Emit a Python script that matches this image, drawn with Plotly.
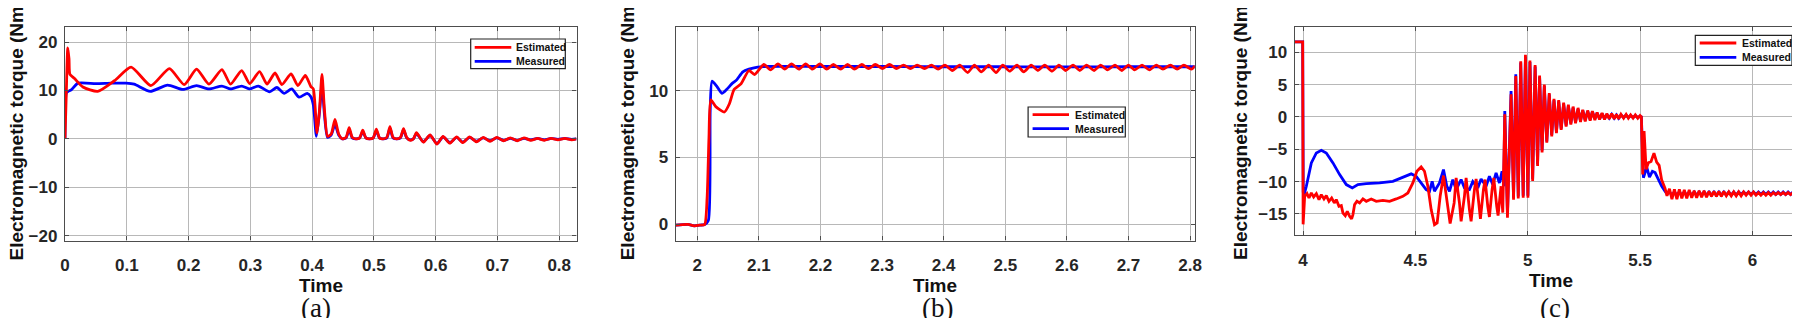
import plotly.graph_objects as go

# ---------------- Panel (a) ----------------
a_t_est = [0.000, 0.002, 0.0045, 0.0065, 0.008, 0.015, 0.029, 0.053, 0.080, 0.107,
           0.139, 0.169, 0.193, 0.213, 0.233, 0.254, 0.268, 0.286, 0.299, 0.315,
           0.327, 0.340, 0.351, 0.366, 0.377, 0.389, 0.398, 0.402, 0.408, 0.412,
           0.416, 0.420, 0.425, 0.431, 0.437, 0.443, 0.449, 0.455, 0.460, 0.465,
           0.471, 0.477, 0.482, 0.487, 0.493, 0.499, 0.504, 0.509, 0.515, 0.521,
           0.526, 0.531, 0.537, 0.543, 0.548, 0.553, 0.559, 0.564, 0.569, 0.580,
           0.591, 0.602, 0.612, 0.623, 0.634, 0.644, 0.655, 0.666, 0.677, 0.688,
           0.699, 0.710, 0.721, 0.732, 0.743, 0.754, 0.765, 0.776, 0.787, 0.798,
           0.809, 0.820, 0.828]
a_est = [0.0, 9.0, 18.8, 16.5, 13.3, 12.5, 10.7, 9.8, 12.0, 14.8,
         11.0, 14.5, 11.2, 14.4, 11.3, 14.3, 11.3, 14.1, 11.4, 13.9,
         11.3, 13.6, 11.2, 13.4, 11.0, 13.1, 10.8, 10.3, 1.2, 6.0,
         13.3, 6.0, 0.5, 1.0, 4.0, 1.0, 0.0, 0.3, 2.3, 0.3,
         0.0, 0.2, 1.8, 0.2, 0.0, 0.2, 2.0, 0.2, 0.0, 0.3,
         2.5, 0.3, 0.0, 0.3, 2.1, 0.3, -0.3, 0.0, 1.3, -0.7,
         0.8, -1.1, 0.5, -0.9, 0.4, -0.8, 0.4, -0.6, 0.3, -0.5,
         0.3, -0.4, 0.2, -0.4, 0.2, -0.3, 0.1, -0.3, 0.1, -0.2,
         0.1, -0.2, 0.0]
a_t_meas = [0.000, 0.002, 0.005, 0.010, 0.021, 0.050, 0.075, 0.099, 0.112, 0.138,
            0.166, 0.191, 0.213, 0.233, 0.254, 0.268, 0.286, 0.299, 0.313, 0.331,
            0.343, 0.355, 0.367, 0.379, 0.392, 0.398, 0.402, 0.407, 0.412, 0.416,
            0.420, 0.425, 0.431, 0.437, 0.443, 0.449, 0.455, 0.460, 0.465, 0.471,
            0.477, 0.482, 0.487, 0.493, 0.499, 0.504, 0.509, 0.515, 0.521, 0.526,
            0.531, 0.537, 0.543, 0.548, 0.553, 0.559, 0.564, 0.569, 0.580, 0.591,
            0.602, 0.612, 0.623, 0.634, 0.644, 0.655, 0.666, 0.677, 0.688, 0.699,
            0.710, 0.721, 0.732, 0.743, 0.754, 0.765, 0.776, 0.787, 0.798, 0.809,
            0.820, 0.828]
a_meas = [0.0, 9.4, 9.8, 10.1, 11.5, 11.4, 11.5, 11.5, 11.3, 9.8,
          11.1, 10.2, 11.0, 10.3, 10.9, 10.3, 10.9, 10.3, 10.9, 9.7,
          10.6, 9.4, 10.3, 8.6, 9.4, 8.7, 7.0, 0.5, 5.5, 11.2,
          5.0, 0.3, 0.8, 3.0, 0.8, 0.0, 0.2, 1.9, 0.2, 0.0,
          0.2, 1.5, 0.2, 0.0, 0.2, 1.7, 0.2, 0.0, 0.2, 2.2,
          0.2, 0.0, 0.2, 1.9, 0.2, -0.2, 0.0, 1.1, -0.6, 0.7,
          -1.0, 0.4, -0.8, 0.3, -0.7, 0.3, -0.5, 0.2, -0.4, 0.2,
          -0.3, 0.1, -0.3, 0.1, -0.2, 0.1, -0.2, 0.1, -0.1, 0.1,
          -0.1, 0.0]

# ---------------- Panel (b) ----------------
b_t_est = [1.965, 1.985, 1.995, 2.005, 2.012, 2.016, 2.019, 2.022, 2.030, 2.044,
           2.052, 2.060, 2.071, 2.084, 2.093, 2.108,
           2.119, 2.131, 2.142, 2.153, 2.165, 2.176, 2.187, 2.199, 2.210, 2.221,
           2.233, 2.244, 2.255, 2.267, 2.278, 2.289, 2.301, 2.312, 2.323, 2.335,
           2.346, 2.357, 2.369, 2.380, 2.391, 2.402, 2.414, 2.426, 2.439, 2.450,
           2.461, 2.473, 2.485, 2.496, 2.507, 2.519, 2.530, 2.542, 2.553, 2.564,
           2.576, 2.587, 2.598, 2.610, 2.621, 2.632, 2.644, 2.655, 2.666, 2.678,
           2.689, 2.700, 2.710, 2.722, 2.734, 2.745, 2.756, 2.768, 2.779, 2.790,
           2.802, 2.808]
b_est = [-0.05, 0.0, -0.1, -0.05, 0.0, 2.0, 6.5, 9.3, 8.8, 8.4,
         9.0, 10.1, 10.5, 11.5, 11.2, 11.95,
         11.55, 12.0, 11.6, 12.0, 11.6, 12.0, 11.6, 12.0, 11.6, 11.95,
         11.6, 11.95, 11.6, 11.95, 11.65, 11.95, 11.65, 11.95, 11.65, 11.9,
         11.65, 11.9, 11.65, 11.9, 11.6, 11.9, 11.5, 11.9, 11.35, 11.9,
         11.4, 11.9, 11.35, 11.9, 11.45, 11.9, 11.4, 11.9, 11.5, 11.9,
         11.45, 11.9, 11.5, 11.9, 11.5, 11.9, 11.5, 11.9, 11.55, 11.9,
         11.5, 11.9, 11.55, 11.9, 11.55, 11.9, 11.6, 11.9, 11.6, 11.9,
         11.6, 11.85]
b_t_meas = [1.965, 1.985, 1.995, 2.005, 2.012, 2.018, 2.021, 2.024, 2.032, 2.040,
            2.048, 2.056, 2.064, 2.074, 2.084, 2.098, 2.110, 2.200, 2.300, 2.400,
            2.500, 2.600, 2.700, 2.808]
b_meas = [-0.05, 0.0, -0.1, -0.05, 0.0, 0.3, 8.5, 10.7, 10.3, 9.8,
          10.1, 10.5, 10.8, 11.4, 11.6, 11.75, 11.8, 11.8, 11.8, 11.78,
          11.78, 11.77, 11.78, 11.78]

# ---------------- Panel (c) ----------------
c_t_est_pre = [3.963, 3.9985, 4.0005, 4.0074, 4.0178, 4.0267, 4.0370, 4.0474, 4.0593, 4.0711,
               4.0815, 4.0933, 4.1037, 4.1156, 4.1274, 4.1393, 4.1481, 4.1600, 4.1704, 4.1778,
               4.1881, 4.1970, 4.2074, 4.2163, 4.2222, 4.2296, 4.2400, 4.2519, 4.2667, 4.2815,
               4.3037, 4.3259, 4.3556, 4.3852, 4.4148, 4.4444, 4.4667, 4.4889, 4.5067, 4.5259,
               4.5407, 4.5556, 4.5704, 4.5852, 4.5970, 4.6104, 4.6252, 4.6400, 4.6548, 4.6726,
               4.6815, 4.6963, 4.7037, 4.7185, 4.7259, 4.7407, 4.7481, 4.7630, 4.7704, 4.7822,
               4.7896, 4.8030, 4.8104, 4.8222, 4.8296, 4.8415, 4.8489, 4.8622, 4.8681, 4.8815,
               4.8890, 4.8980, 4.9100]
c_est_pre = [11.6, 11.6, -16.6, -12.27, -11.86, -12.53, -11.75, -12.37, -11.86, -12.78,
             -12.01, -12.68, -12.16, -13.04, -12.53, -13.30, -12.78, -13.81, -13.71, -14.85,
             -15.26, -14.59, -15.36, -15.77, -15.10, -13.56, -13.04, -13.30, -12.68, -13.04,
             -12.68, -13.04, -12.89, -13.04, -12.68, -12.27, -11.75, -10.21, -8.40, -7.73,
             -8.40, -10.72, -14.33, -16.65, -16.39, -12.27, -9.07, -12.78, -16.49, -13.30,
             -9.43, -13.30, -16.13, -12.27, -9.43, -14.33, -16.13, -11.24, -9.59, -13.30,
             -15.77, -11.24, -9.69, -13.81, -15.46, -11.24, -9.43, -13.81, -15.26, -10.72,
             -14.8, 0.4, -15.6]
c_t_meas_pre = [3.963, 3.9985, 4.0010, 4.0030, 4.0148, 4.0370, 4.0593, 4.0815, 4.1037, 4.1333,
                4.1630, 4.1926, 4.2193, 4.2444, 4.2815, 4.3407, 4.4000, 4.4444, 4.4815, 4.5037,
                4.5259, 4.5481, 4.5630, 4.5748, 4.5852, 4.6074, 4.6252, 4.6400, 4.6519, 4.6667,
                4.6815, 4.7037, 4.7185, 4.7407, 4.7556, 4.7778, 4.7926, 4.8148, 4.8296, 4.8444,
                4.8593, 4.8741, 4.8859, 4.8933, 4.8980, 4.9100]
c_meas_pre = [11.6, 11.6, -11.5, -12.27, -10.72, -7.11, -5.57, -5.15, -5.57, -7.11,
              -8.92, -10.46, -10.98, -10.46, -10.31, -10.21, -9.95, -9.28, -8.81, -9.18,
              -10.21, -11.24, -11.49, -9.95, -11.49, -10.21, -8.14, -10.72, -11.49, -9.69,
              -11.24, -9.69, -10.98, -11.24, -10.0, -10.98, -9.59, -10.72, -9.18, -10.46,
              -8.66, -10.21, -8.40, -10.72, 0.9, -15.0]
c_t_osc = [4.926, 4.937, 4.947, 4.958, 4.969, 4.980, 4.990, 5.001, 5.010, 5.022,
           5.033, 5.044, 5.053, 5.064, 5.074, 5.085, 5.096, 5.107, 5.117, 5.128,
           5.138, 5.149, 5.160, 5.171, 5.181, 5.192, 5.202, 5.213, 5.224, 5.235,
           5.245, 5.256, 5.267, 5.278, 5.288, 5.299, 5.309, 5.320, 5.331, 5.342,
           5.352, 5.363, 5.374, 5.385, 5.395, 5.405, 5.415, 5.427, 5.438, 5.448,
           5.458, 5.469, 5.479, 5.490, 5.500]
c_est_osc = [3.5, -12.8, 6.3, -12.6, 8.6, -12.5, 9.6, -12.5, 8.7, -9.9,
             8.0, -7.6, 6.4, -5.5, 5.0, -4.0, 3.7, -3.0, 2.8, -2.5,
             2.6, -2.0, 2.2, -1.5, 1.9, -1.2, 1.6, -1.0, 1.4, -0.8,
             1.1, -0.7, 1.0, -0.6, 0.9, -0.5, 0.7, -0.4, 0.6, -0.4,
             0.5, -0.3, 0.5, -0.3, 0.4, -0.3, 0.4, -0.2, 0.4, -0.2,
             0.3, -0.2, 0.3, -0.2, 0.2]
c_meas_osc = [4.0, -12.5, 6.6, -12.3, 8.4, -12.2, 9.3, -12.2, 8.5, -9.6,
              7.8, -7.3, 6.2, -5.2, 4.8, -3.8, 3.5, -2.8, 2.6, -2.3,
              2.4, -1.8, 2.0, -1.3, 1.7, -1.0, 1.4, -0.8, 1.2, -0.6,
              1.0, -0.5, 0.9, -0.4, 0.8, -0.3, 0.6, -0.3, 0.5, -0.3,
              0.4, -0.2, 0.4, -0.2, 0.3, -0.2, 0.3, -0.1, 0.3, -0.1,
              0.2, -0.1, 0.2, -0.1, 0.1]
c_t_tail = [5.631, 5.642, 5.653, 5.664, 5.675, 5.686, 5.697, 5.708, 5.719, 5.730,
            5.741, 5.752, 5.763, 5.774, 5.785, 5.796, 5.807, 5.818, 5.829, 5.840,
            5.851, 5.862, 5.873, 5.884, 5.895, 5.906, 5.917, 5.928, 5.939, 5.950,
            5.961, 5.972, 5.983, 5.994, 6.005, 6.016, 6.027, 6.038, 6.049, 6.060,
            6.071, 6.082, 6.093, 6.104, 6.115, 6.126, 6.137, 6.148, 6.159, 6.170,
            6.181, 6.192, 6.203, 6.214, 6.225, 6.240]
c_est_tail = [-11.1, -12.7, -11.2, -12.7, -11.2, -12.6, -11.3, -12.6, -11.3, -12.5,
              -11.4, -12.5, -11.4, -12.4, -11.4, -12.4, -11.5, -12.3, -11.5, -12.3,
              -11.5, -12.3, -11.5, -12.2, -11.6, -12.2, -11.6, -12.2, -11.6, -12.2,
              -11.6, -12.1, -11.6, -12.1, -11.6, -12.1, -11.7, -12.1, -11.7, -12.1,
              -11.7, -12.1, -11.7, -12.0, -11.7, -12.0, -11.7, -12.0, -11.7, -12.0,
              -11.7, -12.0, -11.7, -12.0, -11.7, -11.9]
c_meas_tail = [-11.6, -12.1, -11.6, -12.1, -11.6, -12.1, -11.6, -12.1, -11.6, -12.1,
               -11.6, -12.1, -11.6, -12.1, -11.6, -12.1, -11.6, -12.1, -11.6, -12.1,
               -11.6, -12.1, -11.6, -12.1, -11.6, -12.1, -11.6, -12.1, -11.6, -12.0,
               -11.6, -12.0, -11.6, -12.0, -11.6, -12.0, -11.6, -12.0, -11.6, -12.0,
               -11.6, -12.0, -11.6, -12.0, -11.6, -12.0, -11.6, -12.0, -11.6, -12.0,
               -11.6, -12.0, -11.6, -12.0, -11.6, -11.8]
c_t_est_drop = [5.506, 5.512, 5.518, 5.527, 5.537, 5.549, 5.562, 5.574, 5.585, 5.596, 5.611, 5.620]
c_est_drop = [0.0, -8.9, -2.2, -8.1, -7.1, -6.9, -5.6, -7.0, -7.5, -9.7, -11.0, -12.2]
c_t_meas_drop = [5.506, 5.515, 5.530, 5.542, 5.555, 5.567, 5.582, 5.596, 5.611, 5.620]
c_meas_drop = [0.0, -9.4, -7.8, -9.3, -8.4, -8.6, -9.7, -10.7, -11.5, -11.9]

c_t_est = c_t_est_pre + c_t_osc + c_t_est_drop + c_t_tail
c_est = c_est_pre + c_est_osc + c_est_drop + c_est_tail
c_t_meas = c_t_meas_pre + c_t_osc + c_t_meas_drop + c_t_tail
c_meas = c_meas_pre + c_meas_osc + c_meas_drop + c_meas_tail

series_names = ["Estimated", "Measured"]
panel_labels = ["(a)", "(b)", "(c)"]
x_title = "Time"
y_title = "Electromagnetic torque (Nm)"

RED = "#ff0000"
BLUE = "#0000ff"
FONT = "Liberation Sans, Arial, sans-serif"
W, H = 1800, 318

fig = go.Figure()

panels = [
    dict(tm=a_t_meas, ym=a_meas, te=a_t_est, ye=a_est, shape="spline"),
    dict(tm=b_t_meas, ym=b_meas, te=b_t_est, ye=b_est, shape="spline"),
    dict(tm=c_t_meas, ym=c_meas, te=c_t_est, ye=c_est, shape="linear"),
]
for i, p in enumerate(panels):
    sfx = "" if i == 0 else str(i + 1)
    fig.add_trace(go.Scatter(x=p["tm"], y=p["ym"], mode="lines", name=series_names[1],
                             line=dict(color=BLUE, width=2.8, shape=p["shape"], smoothing=0.6),
                             xaxis="x" + sfx, yaxis="y" + sfx, showlegend=False))
    fig.add_trace(go.Scatter(x=p["te"], y=p["ye"], mode="lines", name=series_names[0],
                             line=dict(color=RED, width=2.8, shape=p["shape"], smoothing=0.6),
                             xaxis="x" + sfx, yaxis="y" + sfx, showlegend=False))

# pixel geometry of the three plot areas
boxes = [  # x0, x1, ytop, ybottom (px)
    (57.0, 568.5, 19.0, 232.5),
    (667.7, 1186.7, 19.0, 232.5),
    (1286.7, 1798.3, 19.3, 227.3),
]
xranges = [[0, 0.828], [1.965, 2.8075], [3.963, 6.24]]
yranges = [[-21.0, 23.1], [-1.2, 14.75], [-18.3, 13.85]]
xdticks = [(0, 0.1), (2, 0.1), (4, 0.5)]
ydticks = [10, 5, 5]

axis_common = dict(
    showgrid=True, gridcolor="#b8b8b8", gridwidth=1.2,
    showline=True, linecolor="#4d4d4d", linewidth=1.3, mirror="ticks",
    ticks="inside", ticklen=4, tickcolor="#4d4d4d",
    zeroline=False, automargin=False,
    tickfont=dict(family=FONT, size=17, color="#262626", weight="bold"),
)

layout = {}
for i, (x0, x1, yt, yb) in enumerate(boxes):
    sfx = "" if i == 0 else str(i + 1)
    layout["xaxis" + sfx] = dict(
        axis_common, domain=[x0 / W, x1 / W], anchor="y" + sfx, range=xranges[i],
        tick0=xdticks[i][0], dtick=xdticks[i][1], ticklabelstandoff=9)
    layout["yaxis" + sfx] = dict(
        axis_common, domain=[1 - yb / H, 1 - yt / H], anchor="x" + sfx, range=yranges[i],
        dtick=ydticks[i], ticklabelstandoff=3)

annotations = []
shapes = []

# axis titles (pixel positions of their centres)
xtitle_pos = [(312.7, 277.0), (927.2, 277.0), (1542.5, 272.0)]
ytitle_pos = [(7.5, 122.0), (619.3, 122.0), (1231.9, 121.0)]
for (tx, ty) in xtitle_pos:
    annotations.append(dict(text=x_title, x=tx / W, y=1 - ty / H, xref="paper", yref="paper",
                            xanchor="center", yanchor="middle", showarrow=False,
                            font=dict(family=FONT, size=19, color="#111111", weight="bold")))
for (tx, ty) in ytitle_pos:
    annotations.append(dict(text=y_title, x=tx / W, y=1 - ty / H, xref="paper", yref="paper",
                            xanchor="center", yanchor="middle", showarrow=False, textangle=-90,
                            font=dict(family=FONT, size=19, color="#111111", weight="bold")))

# legend boxes drawn in pixel geometry (box x0, x1, y0, y1; line x0, x1; row y's; text x)
legend_geom = [
    (462.7, 557.3, 31.0, 60.7, 466.7, 503.3, 39.3, 53.3, 506.0),
    (1020.1, 1117.3, 99.0, 129.0, 1024.6, 1061.0, 106.7, 120.7, 1064.9),
    (1687.3, 1784.0, 27.3, 57.3, 1691.7, 1728.3, 35.0, 49.3, 1731.7),
]
for (bx0, bx1, by0, by1, lx0, lx1, ry1, ry2, tx) in legend_geom:
    shapes.append(dict(type="rect", xref="paper", yref="paper",
                       x0=bx0 / W, x1=bx1 / W, y0=1 - by1 / H, y1=1 - by0 / H,
                       line=dict(color="#222222", width=1.2), fillcolor="white", layer="above"))
    for ry, col, name in [(ry1, RED, series_names[0]), (ry2, BLUE, series_names[1])]:
        shapes.append(dict(type="line", xref="paper", yref="paper",
                           x0=lx0 / W, x1=lx1 / W, y0=1 - ry / H, y1=1 - ry / H,
                           line=dict(color=col, width=2.8), layer="above"))
        annotations.append(dict(text=name, x=tx / W, y=1 - ry / H, xref="paper", yref="paper",
                                xanchor="left", yanchor="middle", showarrow=False,
                                font=dict(family=FONT, size=10.5, color="#111111", weight="bold")))

label_x = [307.9, 929.7, 1546.9]
for i, lx in enumerate(label_x):
    annotations.append(dict(text=panel_labels[i], x=lx / W, y=1 - 300 / H, xref="paper", yref="paper",
                            xanchor="center", yanchor="middle", showarrow=False,
                            font=dict(family="Liberation Serif, Times New Roman, serif", size=27, color="#111111")))

fig.update_layout(
    **layout,
    shapes=shapes,
    annotations=annotations,
    width=W, height=H,
    margin=dict(l=0, r=0, t=0, b=0),
    paper_bgcolor="white", plot_bgcolor="white",
    showlegend=False,
)

fig.write_html("out.html")
